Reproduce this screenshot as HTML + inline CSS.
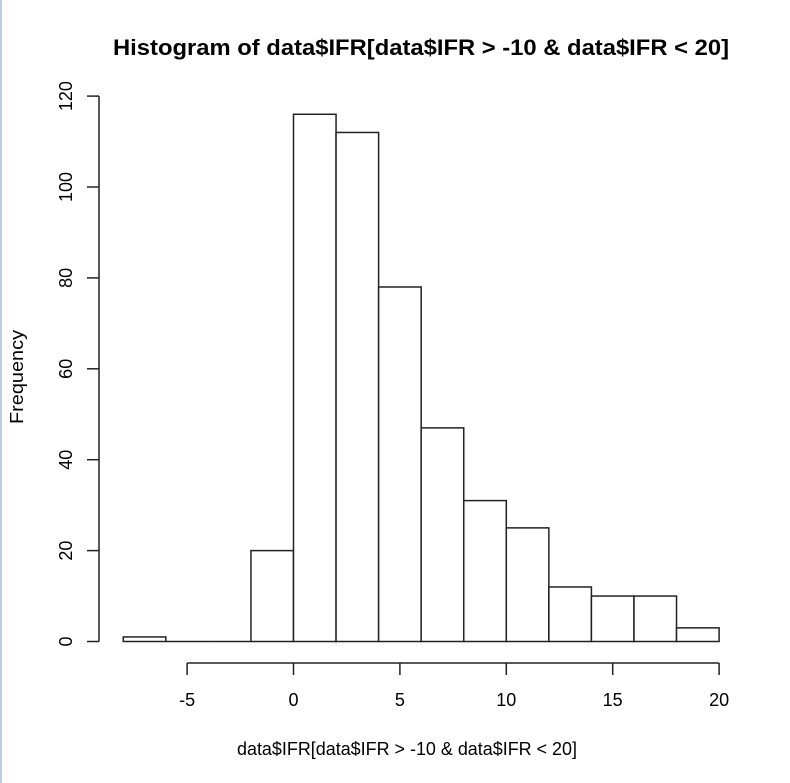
<!DOCTYPE html>
<html><head><meta charset="utf-8"><style>
body{margin:0;background:#fff;}
svg{display:block;font-family:"Liberation Sans",Arial,sans-serif;}
</style></head><body>
<svg width="790" height="783">
<rect x="0" y="0" width="2" height="783" fill="#b8cfe8"/>
<text x="421" y="55" font-size="22" font-weight="bold" text-anchor="middle" textLength="616" lengthAdjust="spacingAndGlyphs">Histogram of data$IFR[data$IFR &gt; -10 &amp; data$IFR &lt; 20]</text>
<text x="407" y="755" font-size="18" text-anchor="middle" textLength="340" lengthAdjust="spacingAndGlyphs">data$IFR[data$IFR &gt; -10 &amp; data$IFR &lt; 20]</text>
<text transform="translate(23,377) rotate(-90)" font-size="18" text-anchor="middle" textLength="94" lengthAdjust="spacingAndGlyphs">Frequency</text>
<g id="bars"></g><g id="axes"></g>
</svg>
<script>
const binEdges=[-8,-6,-4,-2,0,2,4,6,8,10,12,14,16,18,20];
const counts=[1,0,0,20,116,112,78,47,31,25,12,10,10,3];
const xTicks=[-5,0,5,10,15,20];
const yTicks=[0,20,40,60,80,100,120];
const NS="http://www.w3.org/2000/svg";
const xs=v=>293.5+(v-0)*21.28;
const ys=v=>641.5-v*4.545;
function mk(t,a,p){const e=document.createElementNS(NS,t);for(const k in a)e.setAttribute(k,a[k]);p.appendChild(e);return e;}
const bars=document.getElementById('bars'),axes=document.getElementById('axes');
counts.forEach((c,i)=>{
 const x0=xs(binEdges[i]),x1=xs(binEdges[i+1]);
 let r;
 if(c===0){
  r=mk('line',{x1:x0,x2:x1,y1:ys(0),y2:ys(0),stroke:'#222','stroke-width':1.5},bars);
 }else{
  r=mk('rect',{x:x0,y:ys(c),width:x1-x0,height:ys(0)-ys(c),fill:'#fff',stroke:'#222','stroke-width':1.5},bars);
 }
 
 
});
const xa=mk('g',{},axes);


mk('line',{x1:xs(xTicks[0]),x2:xs(xTicks[xTicks.length-1]),y1:663,y2:663,stroke:'#222','stroke-width':1.5},xa);
xTicks.forEach(v=>{
 mk('line',{x1:xs(v),x2:xs(v),y1:663,y2:675,stroke:'#222','stroke-width':1.5},xa);
 const t=mk('text',{x:xs(v),y:706,'font-size':18,'text-anchor':'middle'},xa);t.textContent=v;
 
 
});
const ya=mk('g',{},axes);


mk('line',{x1:99,x2:99,y1:ys(yTicks[0]),y2:ys(yTicks[yTicks.length-1]),stroke:'#222','stroke-width':1.5},ya);
yTicks.forEach(v=>{
 mk('line',{x1:87,x2:99,y1:ys(v),y2:ys(v),stroke:'#222','stroke-width':1.5},ya);
 const t=mk('text',{transform:`translate(72,${ys(v)}) rotate(-90)`,'font-size':18,'text-anchor':'middle'},ya);t.textContent=v;
 
 
});
</script>
</body></html>
